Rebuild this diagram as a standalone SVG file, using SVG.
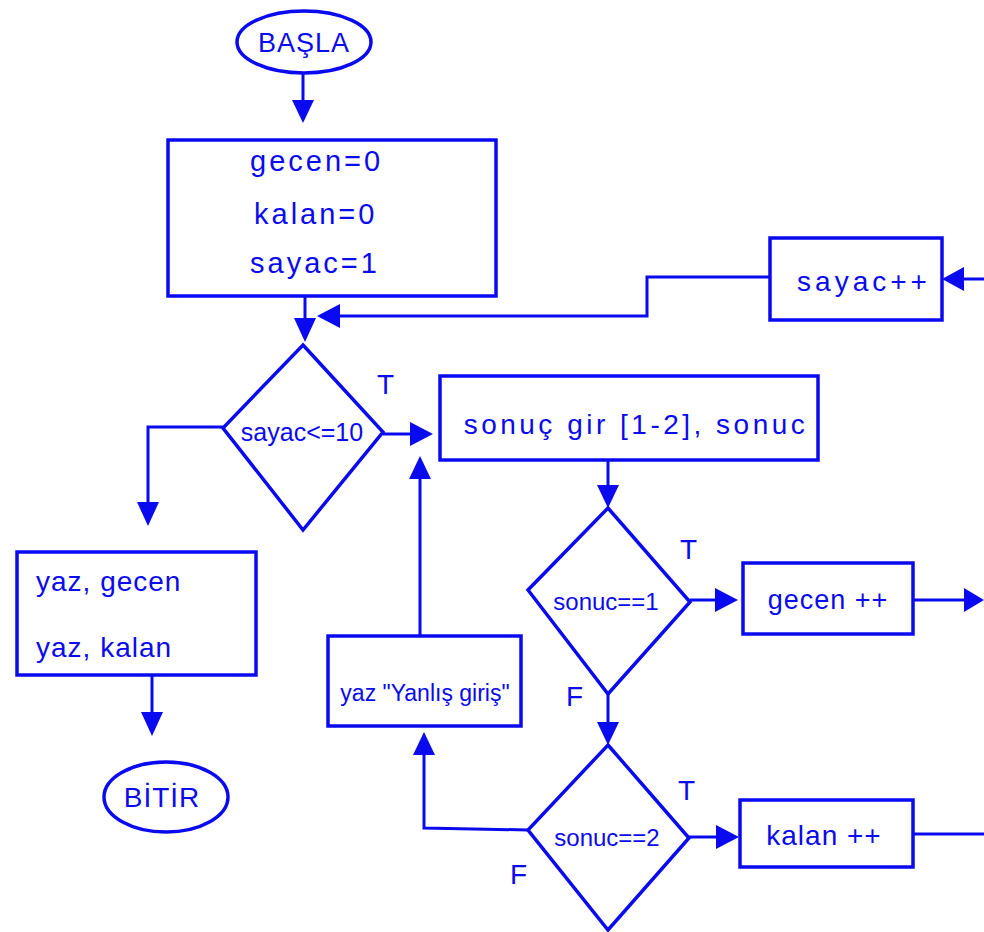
<svg xmlns="http://www.w3.org/2000/svg" width="984" height="932" viewBox="0 0 984 932">
<style>
.b{fill:#ffffff;stroke:#0a0af0;stroke-width:3.5}
.c{fill:none;stroke:#0a0af0;stroke-width:3}
.t{font-family:"Liberation Sans",Arial,sans-serif;font-size:27px;fill:#0a0af0;letter-spacing:1px}
.d{font-family:"Liberation Sans",Arial,sans-serif;font-size:23px;fill:#0a0af0}
.l{font-family:"Liberation Sans",Arial,sans-serif;font-size:28px;fill:#0a0af0}
.ah{fill:#0a0af0}
</style>
<rect width="984" height="932" fill="#ffffff"/>
<g id="connectors">
<line class="c" x1="303" y1="73" x2="303" y2="100"/>
<path class="ah" d="M292,100 L314,100 L303,123 Z"/>
<line class="c" x1="305" y1="296" x2="305" y2="320"/>
<path class="ah" d="M294,318 L316,318 L305,342 Z"/>
<polyline class="c" points="770,277 647,277 647,316 338,316"/>
<path class="ah" d="M340,304 L340,328 L317,316 Z"/>
<line class="c" x1="984" y1="279" x2="962" y2="279"/>
<path class="ah" d="M964,267 L964,291 L942,279 Z"/>
<line class="c" x1="383" y1="434" x2="410" y2="434"/>
<path class="ah" d="M410,422 L410,446 L433,434 Z"/>
<polyline class="c" points="223,427 148,427 148,503"/>
<path class="ah" d="M137,502 L159,502 L148,526 Z"/>
<line class="c" x1="152" y1="675" x2="152" y2="713"/>
<path class="ah" d="M141,712 L163,712 L152,736 Z"/>
<line class="c" x1="608" y1="460" x2="608" y2="486"/>
<path class="ah" d="M597,485 L619,485 L608,508 Z"/>
<line class="c" x1="690" y1="600" x2="715" y2="600"/>
<path class="ah" d="M715,588 L715,612 L738,600 Z"/>
<line class="c" x1="913" y1="600" x2="964" y2="600"/>
<path class="ah" d="M964,588 L964,612 L984,600 Z"/>
<line class="c" x1="608" y1="694" x2="608" y2="723"/>
<path class="ah" d="M597,722 L619,722 L608,745 Z"/>
<line class="c" x1="689" y1="837" x2="716" y2="837"/>
<path class="ah" d="M716,825 L716,849 L739,837 Z"/>
<line class="c" x1="913" y1="834" x2="984" y2="834"/>
<polyline class="c" points="528,830 424,828 424,754"/>
<path class="ah" d="M413,755 L435,755 L424,732 Z"/>
<line class="c" x1="420" y1="636" x2="420" y2="478"/>
<path class="ah" d="M409,479 L431,479 L420,456 Z"/>
</g>
<g id="start">
<ellipse class="b" cx="304" cy="42" rx="67" ry="31"/>
<text class="t" x="304" y="52" text-anchor="middle">BAŞLA</text>
</g>
<g id="init">
<rect class="b" x="168" y="140" width="328" height="156"/>
<text class="t" x="250" y="171" style="font-size:29px;letter-spacing:3px">gecen=0</text>
<text class="t" x="254" y="224" style="font-size:29px;letter-spacing:3px">kalan=0</text>
<text class="t" x="250" y="273" style="font-size:29px;letter-spacing:3px">sayac=1</text>
</g>
<g id="inc-sayac">
<rect class="b" x="770" y="238" width="172" height="82"/>
<text class="t" x="864" y="291" text-anchor="middle" style="font-size:28px;letter-spacing:4px">sayac++</text>
</g>
<g id="cond-sayac">
<polygon class="b" points="303,345 383,432 303,530 223,428"/>
<text class="d" x="302" y="441" text-anchor="middle" style="font-size:25px">sayac&lt;=10</text>
<text class="l" x="377" y="394">T</text>
</g>
<g id="input">
<rect class="b" x="440" y="376" width="378" height="84"/>
<text class="t" x="636" y="434" text-anchor="middle" style="font-size:28px;letter-spacing:3.5px">sonuç gir [1-2], sonuc</text>
</g>
<g id="output">
<rect class="b" x="17" y="552" width="239" height="123"/>
<text class="t" x="36" y="591" style="font-size:28px">yaz, gecen</text>
<text class="t" x="36" y="657" style="font-size:28px">yaz, kalan</text>
</g>
<g id="end">
<ellipse class="b" cx="166" cy="797" rx="62" ry="35"/>
<text class="t" x="162" y="807" text-anchor="middle" style="font-size:28px">BİTİR</text>
</g>
<g id="cond-1">
<polygon class="b" points="608,508 690,602 608,694 528,590"/>
<text class="d" x="606" y="610" text-anchor="middle" style="font-size:24px">sonuc==1</text>
<text class="l" x="680" y="559">T</text>
<text class="l" x="566" y="706">F</text>
</g>
<g id="inc-gecen">
<rect class="b" x="743" y="563" width="170" height="71"/>
<text class="t" x="828" y="609" text-anchor="middle">gecen ++</text>
</g>
<g id="cond-2">
<polygon class="b" points="608,745 689,838 608,930 528,830"/>
<text class="d" x="607" y="846" text-anchor="middle" style="font-size:24px">sonuc==2</text>
<text class="l" x="678" y="800">T</text>
<text class="l" x="510" y="884">F</text>
</g>
<g id="inc-kalan">
<rect class="b" x="740" y="800" width="173" height="67"/>
<text class="t" x="824" y="845" text-anchor="middle" style="font-size:28px">kalan ++</text>
</g>
<g id="error">
<rect class="b" x="328" y="636" width="193" height="90"/>
<text class="d" x="425" y="701" text-anchor="middle">yaz "Yanlış giriş"</text>
</g>
</svg>
